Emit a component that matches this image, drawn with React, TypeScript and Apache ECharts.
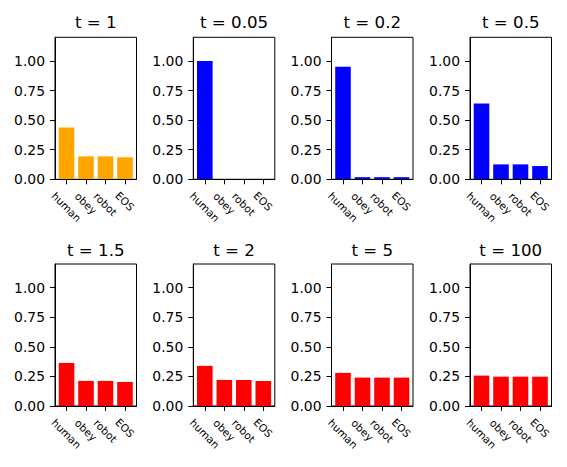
import React, { useEffect, useRef } from 'react';
import * as echarts from 'echarts';

const categories = ['human', 'obey', 'robot', 'EOS'];
const panelTitles = ['t = 1', 't = 0.05', 't = 0.2', 't = 0.5', 't = 1.5', 't = 2', 't = 5', 't = 100'];
const valuesT1 = [0.437, 0.194, 0.194, 0.186];
const valuesT005 = [1.0, 0.0, 0.0, 0.0];
const valuesT02 = [0.952, 0.018, 0.018, 0.018];
const valuesT05 = [0.64, 0.126, 0.126, 0.112];
const valuesT15 = [0.364, 0.212, 0.212, 0.203];
const valuesT2 = [0.339, 0.22, 0.22, 0.212];
const valuesT5 = [0.28, 0.24, 0.24, 0.24];
const valuesT100 = [0.257, 0.248, 0.248, 0.248];
const panelValues = [valuesT1, valuesT005, valuesT02, valuesT05, valuesT15, valuesT2, valuesT5, valuesT100];
const panelColors = ['#FFA500', '#0000FF', '#0000FF', '#0000FF', '#FF0000', '#FF0000', '#FF0000', '#FF0000'];
const yTickValues = [0, 0.25, 0.5, 0.75, 1.0];
const yMax = 1.2;
const xTickValues = [0, 1, 2, 3];

const FONT = 'DejaVu Sans';
const gridLefts = [55, 193.3, 331.5, 470];
const gridTops = [37.3, 264];
const gridW = 81.5;
const gridH = 142;
const titleTops = [14, 241.5];
// per-label extra shift so rotated labels hang below the axis like matplotlib's
const labelPad = [8.6, 3.4, 4.6, 0.5];

export default function App() {
  const ref = useRef<HTMLDivElement>(null);
  useEffect(() => {
    document.body.style.margin = '0';
    if (!ref.current) return;
    const chart = echarts.init(ref.current, null, { renderer: 'svg' });
    const grids: any[] = [];
    const xAxes: any[] = [];
    const yAxes: any[] = [];
    const series: any[] = [];
    const titles: any[] = [];
    const rich: any = {};
    labelPad.forEach((p, i) => {
      rich['c' + i] = { padding: [p, 0, 0, p], fontSize: 10.5, fontFamily: FONT, color: '#000' };
    });
    panelValues.forEach((vals, i) => {
      const row = Math.floor(i / 4);
      const col = i % 4;
      const left = gridLefts[col];
      const top = gridTops[row];
      grids.push({
        left, top, width: gridW, height: gridH,
        show: true, borderColor: '#000', borderWidth: 1, backgroundColor: '#fff',
        containLabel: false,
      });
      titles.push({
        text: panelTitles[i],
        left: left + gridW / 2,
        top: titleTops[row],
        textAlign: 'center',
        padding: 0,
        textStyle: { fontSize: 16.67, fontWeight: 'normal', color: '#000', fontFamily: FONT },
      });
      xAxes.push({
        type: 'value', gridIndex: i, min: -0.59, max: 3.59, z: 10,
        axisLine: { show: true, onZero: false, lineStyle: { color: '#000', width: 1 } },
        axisTick: { show: true, inside: false, length: 5, customValues: xTickValues, lineStyle: { color: '#000', width: 1 } },
        splitLine: { show: false },
        axisLabel: {
          show: true,
          customValues: xTickValues,
          rotate: -45,
          align: 'center',
          verticalAlign: 'middle',
          margin: 21.5,
          fontSize: 10.5,
          fontFamily: FONT,
          color: '#000',
          formatter: (v: number) => `{c${v}|${categories[v]}}`,
          rich,
        },
      });
      yAxes.push({
        type: 'value', gridIndex: i, min: 0, max: yMax, z: 10,
        axisLine: { show: true, onZero: false, lineStyle: { color: '#000', width: 1 } },
        axisTick: { show: true, inside: false, length: 5, customValues: yTickValues, lineStyle: { color: '#000', width: 1 } },
        splitLine: { show: false },
        axisLabel: {
          show: true,
          customValues: yTickValues,
          margin: 10,
          fontSize: 13.9,
          fontFamily: FONT,
          color: '#000',
          formatter: (v: number) => v.toFixed(2),
        },
      });
      series.push({
        type: 'bar',
        xAxisIndex: i,
        yAxisIndex: i,
        barWidth: '80%',
        data: vals.map((v, k) => [k, v]),
        itemStyle: { color: panelColors[i] },
      });
    });
    chart.setOption({
      animation: false,
      backgroundColor: '#fff',
      textStyle: { fontFamily: FONT },
      title: titles,
      grid: grids,
      xAxis: xAxes,
      yAxis: yAxes,
      series,
    });
    return () => chart.dispose();
  }, []);
  return <div ref={ref} style={{ width: 567, height: 467 }} />;
}
